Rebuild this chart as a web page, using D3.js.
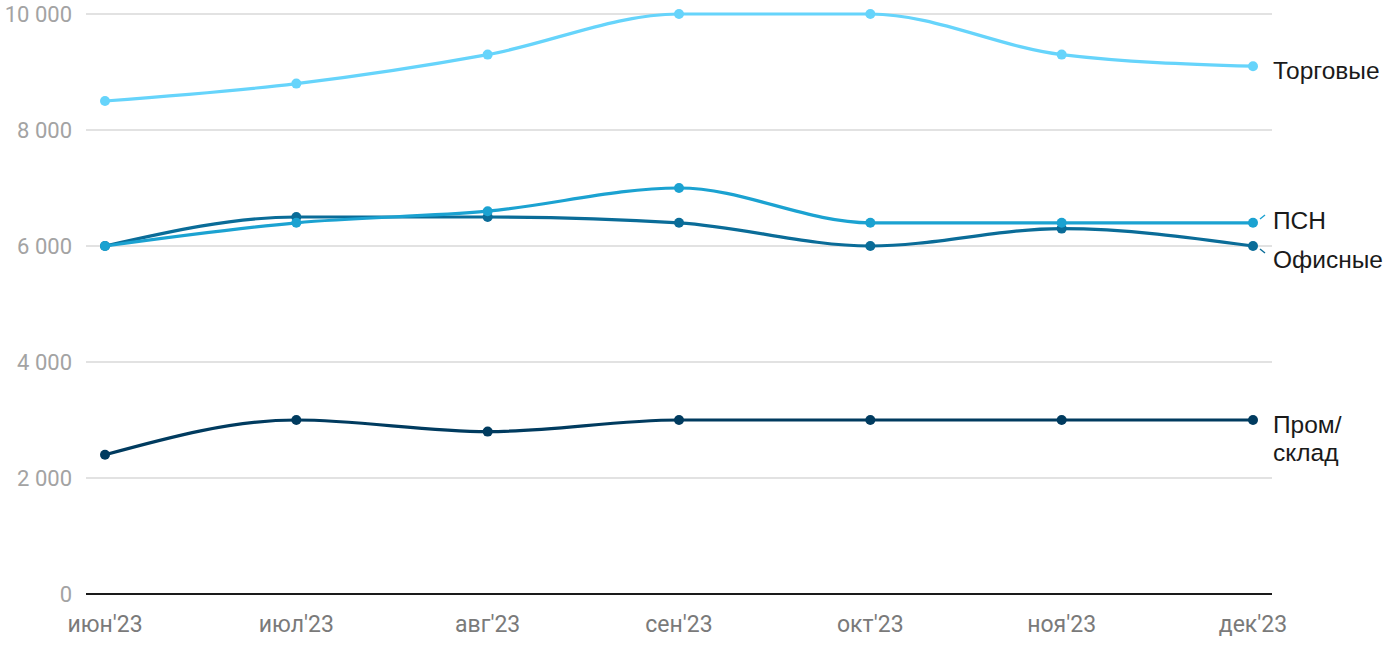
<!DOCTYPE html>
<html><head><meta charset="utf-8">
<script src="https://cdn.jsdelivr.net/npm/d3@7"></script>
<style>body{margin:0;background:#fff}svg{display:block}text{font-family:Roboto,"Noto Sans",sans-serif}text.lbl{font-family:"Liberation Sans",Arial,sans-serif}</style>
</head><body><svg id="c" width="1400" height="650"></svg>
<script>
const months = ["июн'23","июл'23","авг'23","сен'23","окт'23","ноя'23","дек'23"];
const yTicks = [0,2000,4000,6000,8000,10000];
const torgovye = [8500,8800,9300,10000,10000,9300,9100];
const psn = [6000,6400,6600,7000,6400,6400,6400];
const ofisnye = [6000,6500,6500,6400,6000,6300,6000];
const promsklad = [2400,3000,2800,3000,3000,3000,3000];

(function(){
const series = [
  {name:["Торговые"], values:torgovye, color:"#66d4fb", labelY:70},
  {name:["ПСН"], values:psn, color:"#1ba2d1", labelY:220, lead:[[1260,219],[1265,215]]},
  {name:["Офисные"], values:ofisnye, color:"#0a6c98", labelY:259, lead:[[1260,249],[1265,253]]},
  {name:["Пром/","склад"], values:promsklad, color:"#003b5f", labelY:424}
];

const svg = d3.select("#c");
const mL = 86, mR = 1272, mT = 14, mB = 594;
const x = d3.scalePoint().domain(months).range([105,1253]);
const y = d3.scaleLinear().domain([0,10000]).range([mB, mT]);
const fmt = v => d3.format(",")(v).replace(/,/g," ");

svg.append("g").selectAll("line").data(yTicks.filter(d=>d>0)).join("line")
  .attr("x1",mL).attr("x2",mR).attr("y1",d=>y(d)).attr("y2",d=>y(d))
  .attr("stroke","#e2e2e2").attr("stroke-width",2);
svg.append("g").selectAll("text").data(yTicks).join("text")
  .attr("x",72).attr("y",d=>y(d)).attr("dy","0.35em").attr("text-anchor","end")
  .attr("font-size",22).attr("fill","#a3a3a3").text(fmt);
svg.append("line").attr("x1",mL).attr("x2",mR).attr("y1",y(0)).attr("y2",y(0))
  .attr("stroke","#1a1a1a").attr("stroke-width",2);
svg.append("g").selectAll("text").data(months).join("text")
  .attr("x",d=>x(d)).attr("y",632).attr("text-anchor","middle")
  .attr("font-size",23).attr("fill","#7a7a7a").text(d=>d);

const line = d3.line().x((d,i)=>x(months[i])).y(d=>y(d)).curve(d3.curveMonotoneX);
series.slice().reverse().forEach(s=>{
  const g = svg.append("g");
  g.append("path").attr("d",line(s.values)).attr("fill","none").attr("stroke",s.color).attr("stroke-width",3.2);
  g.selectAll("circle").data(s.values).join("circle")
    .attr("cx",(d,i)=>x(months[i])).attr("cy",d=>y(d)).attr("r",5).attr("fill",s.color);
  if (s.lead) g.append("line").attr("x1",s.lead[0][0]).attr("y1",s.lead[0][1]).attr("x2",s.lead[1][0]).attr("y2",s.lead[1][1])
    .attr("stroke",s.color).attr("stroke-width",1.5);
  const t = g.append("text").attr("class","lbl").attr("x",1273).attr("y",s.labelY).attr("font-size",24.5).attr("fill","#1a1a1a");
  s.name.forEach((n,i)=>t.append("tspan").attr("x",1273).attr("dy",i===0?"0.35em":"1.18em").text(n));
});
})();
</script></body></html>
